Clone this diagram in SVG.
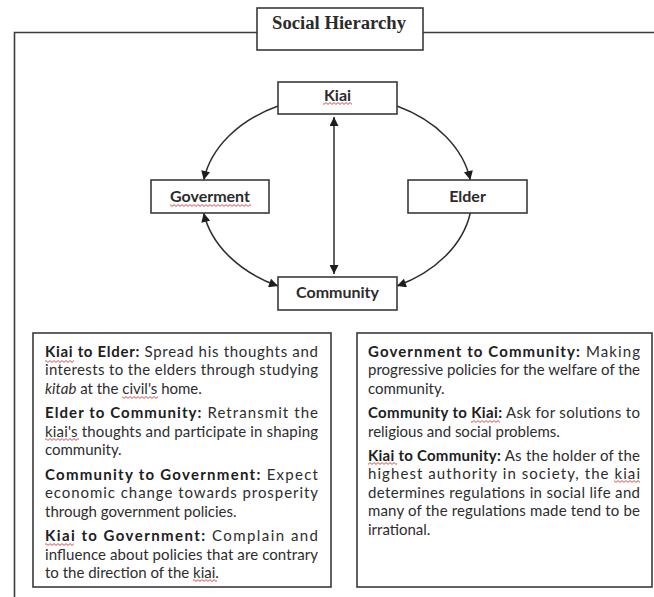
<svg xmlns="http://www.w3.org/2000/svg" width="654" height="597" viewBox="0 0 654 597">
<defs>
<style>
.frame{fill:none;stroke:#3c3c3c;stroke-width:1.6}
.box{fill:#fff;stroke:#3a3a3a;stroke-width:1.6}
.node{font-family:Lato,"Liberation Sans",sans-serif;font-weight:700;font-size:16px;fill:#2b2b2b;text-anchor:middle}
.title{font-family:"Liberation Serif",serif;font-weight:700;font-size:18px;fill:#2b2b2b;text-anchor:middle}
.conn{fill:none;stroke:#2e2e2e;stroke-width:1.5}
.t{font-family:Lato,"Liberation Sans",sans-serif;font-size:15px;fill:#2d2d2d}
.b{font-weight:700;fill:#202020}
.i{font-style:italic}
.sq{fill:url(#wave)}
</style>
<pattern id="wave" x="0" y="0" width="4" height="3" patternUnits="userSpaceOnUse">
<path d="M0,2.4 L2,0.6 L4,2.4" fill="none" stroke="#d63a3a" stroke-width="0.9"/>
</pattern>
<marker id="ah" viewBox="0 0 10 10" refX="10" refY="5" markerWidth="10" markerHeight="9" markerUnits="userSpaceOnUse" orient="auto-start-reverse">
<path d="M0,0 L10,5 L0,10 z" fill="#1e1e1e"/>
</marker>
</defs>
<rect width="654" height="597" fill="#fff"/>
<g id="frame">
<path class="frame" d="M14.5,597 V32.5 H257 M423,32.5 H654"/>
</g>
<g id="title">
<rect class="box" x="257" y="8" width="166" height="42"/>
<text class="title" x="339" y="29" textLength="134" lengthAdjust="spacingAndGlyphs">Social Hierarchy</text>
</g>
<g id="connectors">
<path class="conn" d="M278,106 A135,100 0 0 0 203.7,180" marker-end="url(#ah)"/>
<path class="conn" d="M397,106 A135,100 0 0 1 470.3,180" marker-end="url(#ah)"/>
<path class="conn" d="M470.3,213 A135,100 0 0 1 397,286" marker-end="url(#ah)"/>
<path class="conn" d="M203.7,213 A135,100 0 0 0 278,286" marker-start="url(#ah)" marker-end="url(#ah)"/>
<path class="conn" d="M334,117 V274" marker-start="url(#ah)" marker-end="url(#ah)"/>
</g>
<g id="node-kiai">
<rect class="box" x="278" y="82" width="119" height="32"/>
<text class="node" x="337.5" y="101">Kiai</text>
<rect class="sq" x="323" y="102" width="29" height="3"/>
</g>
<g id="node-goverment">
<rect class="box" x="151" y="180" width="118" height="33"/>
<text class="node" x="210" y="202">Goverment</text>
<rect class="sq" x="170" y="204" width="81" height="3"/>
</g>
<g id="node-elder">
<rect class="box" x="408" y="180" width="119" height="33"/>
<text class="node" x="467.5" y="202">Elder</text>
</g>
<g id="node-community">
<rect class="box" x="278" y="277" width="119" height="33"/>
<text class="node" x="337.5" y="298">Community</text>
</g>
<g id="left-notes">
<rect class="box" x="33" y="333" width="298" height="254"/>
<text class="t" x="45" y="357" textLength="273" lengthAdjust="spacing"><tspan class="b">Kiai to Elder:</tspan> Spread his thoughts and</text>
<text class="t" x="45" y="375.4" textLength="273" lengthAdjust="spacing">interests to the elders through studying</text>
<text class="t" x="45" y="393.8"><tspan class="i">kitab</tspan> at the civil's home.</text>
<text class="t" x="45" y="418.4" textLength="273" lengthAdjust="spacing"><tspan class="b">Elder to Community:</tspan> Retransmit the</text>
<text class="t" x="45" y="436.8" textLength="273" lengthAdjust="spacing">kiai's thoughts and participate in shaping</text>
<text class="t" x="45" y="455.2">community.</text>
<text class="t" x="45" y="479.8" textLength="273" lengthAdjust="spacing"><tspan class="b">Community to Government:</tspan> Expect</text>
<text class="t" x="45" y="498.2" textLength="273" lengthAdjust="spacing">economic change towards prosperity</text>
<text class="t" x="45" y="516.6">through government policies.</text>
<text class="t" x="45" y="541.2" textLength="273" lengthAdjust="spacing"><tspan class="b">Kiai to Government:</tspan> Complain and</text>
<text class="t" x="45" y="559.6" textLength="273" lengthAdjust="spacing">influence about policies that are contrary</text>
<text class="t" x="45" y="578">to the direction of the kiai.</text>
<rect class="sq" x="45" y="360" width="29" height="3"/>
<rect class="sq" x="122" y="396" width="36" height="3"/>
<rect class="sq" x="45" y="438" width="34" height="3"/>
<rect class="sq" x="45" y="543" width="29" height="3"/>
<rect class="sq" x="193" y="579" width="24" height="3"/>
</g>
<g id="right-notes">
<rect class="box" x="357" y="333" width="295" height="254"/>
<text class="t" x="368" y="357" textLength="272" lengthAdjust="spacing"><tspan class="b">Government to Community:</tspan> Making</text>
<text class="t" x="368" y="375.4" textLength="272" lengthAdjust="spacing">progressive policies for the welfare of the</text>
<text class="t" x="368" y="393.8">community.</text>
<text class="t" x="368" y="418.2" textLength="272" lengthAdjust="spacing"><tspan class="b">Community to Kiai:</tspan> Ask for solutions to</text>
<text class="t" x="368" y="436.6">religious and social problems.</text>
<text class="t" x="368" y="461" textLength="272" lengthAdjust="spacing"><tspan class="b">Kiai to Community:</tspan> As the holder of the</text>
<text class="t" x="368" y="479.4" textLength="272" lengthAdjust="spacing">highest authority in society, the kiai</text>
<text class="t" x="368" y="497.8" textLength="272" lengthAdjust="spacing">determines regulations in social life and</text>
<text class="t" x="368" y="516.2" textLength="272" lengthAdjust="spacing">many of the regulations made tend to be</text>
<text class="t" x="368" y="534.6">irrational.</text>
<rect class="sq" x="471" y="420" width="29" height="3"/>
<rect class="sq" x="368" y="462" width="29" height="3"/>
<rect class="sq" x="614" y="480" width="26" height="3"/>
</g>
</svg>
